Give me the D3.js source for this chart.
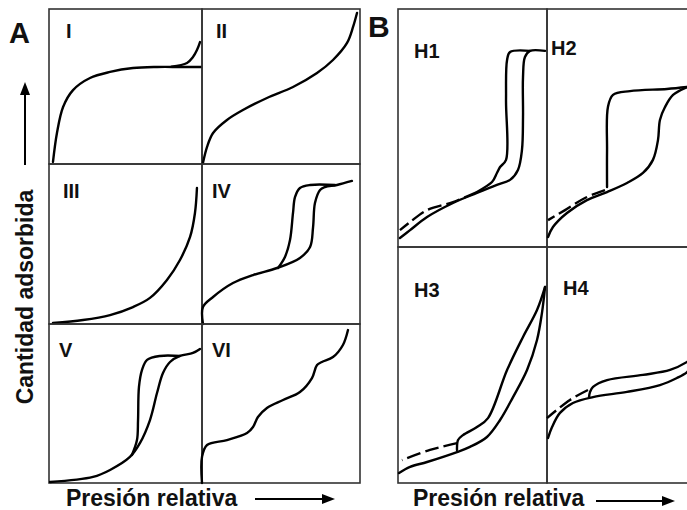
<!DOCTYPE html>
<html>
<head>
<meta charset="utf-8">
<script src="https://cdn.jsdelivr.net/npm/d3@7"></script>
<style>
    body { margin: 0; background: #fff; }
    svg text { font-family: "Liberation Sans", Arial, sans-serif; font-weight: bold; fill: #111; }
</style>
</head>
<body>
<script>
// isotherm shapes, x = relative pressure (0-1), y = amount adsorbed (0-1 within each cell)
const typeI = [[0.026,0.013],[0.052,0.20],[0.092,0.368],[0.157,0.477],[0.268,0.555],[0.399,0.594],[0.549,0.619],[0.706,0.626],[0.856,0.626],[0.993,0.626]];
const typeIUp = [[0.80,0.628],[0.902,0.652],[0.941,0.69],[0.967,0.735],[0.987,0.787]];
const typeII = [[0.006,0.006],[0.032,0.11],[0.07,0.2],[0.158,0.284],[0.259,0.348],[0.411,0.426],[0.576,0.497],[0.728,0.587],[0.829,0.671],[0.918,0.781],[0.956,0.884],[0.981,0.974]];
const typeIII = [[0.026,0.006],[0.222,0.025],[0.399,0.056],[0.549,0.106],[0.66,0.163],[0.771,0.275],[0.856,0.4],[0.922,0.544],[0.954,0.694],[0.967,0.85]];
const typeIVAds = [[0.006,0.0],[0.006,0.106],[0.07,0.169],[0.196,0.256],[0.323,0.306],[0.475,0.35],[0.62,0.413],[0.684,0.481],[0.703,0.606],[0.715,0.756],[0.747,0.838],[0.778,0.856],[0.854,0.869],[0.949,0.894]];
const typeIVDes = [[0.842,0.869],[0.684,0.869],[0.62,0.85],[0.589,0.794],[0.576,0.694],[0.557,0.525],[0.525,0.419],[0.481,0.35]];
const typeVAds = [[0.007,0.006],[0.288,0.038],[0.399,0.082],[0.529,0.164],[0.595,0.252],[0.66,0.396],[0.706,0.566],[0.745,0.692],[0.791,0.761],[0.856,0.799],[0.941,0.818],[0.987,0.843]];
const typeVDes = [[0.856,0.799],[0.725,0.799],[0.641,0.774],[0.608,0.711],[0.588,0.604],[0.582,0.396],[0.575,0.27],[0.542,0.176]];
const typeVI = [[0.0,0.0],[0.0,0.164],[0.032,0.239],[0.158,0.27],[0.285,0.314],[0.323,0.352],[0.354,0.415],[0.411,0.472],[0.513,0.522],[0.62,0.572],[0.696,0.66],[0.728,0.742],[0.759,0.761],[0.829,0.792],[0.892,0.868],[0.924,0.962]];

const h1Ads = [[0.013,0.038],[0.081,0.071],[0.195,0.126],[0.369,0.185],[0.53,0.227],[0.664,0.261],[0.752,0.282],[0.805,0.324],[0.832,0.408],[0.839,0.546],[0.839,0.714],[0.852,0.798],[0.886,0.824],[0.987,0.824]];
const h1Des = [[0.886,0.824],[0.752,0.819],[0.732,0.786],[0.725,0.618],[0.725,0.366],[0.685,0.336],[0.664,0.311],[0.631,0.273],[0.53,0.231]];
const h1Low = [[0.53,0.231],[0.369,0.189],[0.195,0.155],[0.081,0.105],[0.013,0.071]];
const h2Ads = [[0.007,0.042],[0.04,0.084],[0.134,0.143],[0.268,0.197],[0.403,0.231],[0.537,0.269],[0.644,0.311],[0.711,0.366],[0.745,0.45],[0.758,0.534],[0.792,0.588],[0.846,0.639],[0.94,0.672]];
const h2Des = [[0.94,0.672],[0.805,0.664],[0.557,0.655],[0.443,0.639],[0.409,0.588],[0.403,0.408],[0.403,0.252]];
const h2Low = [[0.389,0.239],[0.255,0.206],[0.121,0.155],[0.007,0.113]];
const h3Ads = [[0.007,0.042],[0.081,0.068],[0.195,0.089],[0.396,0.131],[0.483,0.153],[0.597,0.195],[0.685,0.267],[0.772,0.364],[0.866,0.479],[0.933,0.606],[0.966,0.72],[0.987,0.831]];
const h3Des = [[0.987,0.831],[0.933,0.733],[0.839,0.619],[0.732,0.479],[0.604,0.275],[0.53,0.237],[0.436,0.203],[0.403,0.182],[0.396,0.14]];
const h3Low = [[0.396,0.169],[0.215,0.14],[0.027,0.097]];
const h4Ads = [[0.007,0.191],[0.034,0.237],[0.087,0.297],[0.174,0.339],[0.309,0.364],[0.537,0.386],[0.758,0.415],[0.872,0.445],[0.94,0.47],[1.0,0.513]];
const h4Des = [[1.0,0.542],[0.94,0.513],[0.826,0.479],[0.644,0.458],[0.403,0.436],[0.309,0.407],[0.289,0.386],[0.282,0.364]];
const h4Low = [[0.275,0.394],[0.154,0.352],[0.0,0.275]];

const cellLabels = ["I", "II", "III", "IV", "V", "VI", "H1", "H2", "H3", "H4"];
const yTitle = "Cantidad adsorbida";
const xTitle = "Presión relativa";

const width = 687, height = 510;
const svg = d3.select("body").append("svg").attr("width", width).attr("height", height);

// cell boxes
const cells = [
    { x0: 49, x1: 202, y0: 9, y1: 164, lx: 66, ly: 38, lines: [typeI, typeIUp] },
    { x0: 202, x1: 360, y0: 9, y1: 164, lx: 216, ly: 38, lines: [typeII] },
    { x0: 49, x1: 202, y0: 164, y1: 324, lx: 63, ly: 198, lines: [typeIII] },
    { x0: 202, x1: 360, y0: 164, y1: 324, lx: 212, ly: 198, lines: [typeIVAds, typeIVDes] },
    { x0: 49, x1: 202, y0: 324, y1: 483, lx: 59, ly: 357, lines: [typeVAds, typeVDes] },
    { x0: 202, x1: 360, y0: 324, y1: 483, lx: 212, ly: 357, lines: [typeVI] },
    { x0: 398, x1: 547, y0: 9, y1: 247, lx: 414, ly: 58, lines: [h1Ads, h1Des], dashed: h1Low },
    { x0: 547, x1: 696, y0: 9, y1: 247, lx: 551, ly: 55, lines: [h2Ads, h2Des], dashed: h2Low },
    { x0: 398, x1: 547, y0: 247, y1: 483, lx: 414, ly: 297, lines: [h3Ads, h3Des], dashed: h3Low },
    { x0: 547, x1: 696, y0: 247, y1: 483, lx: 563, ly: 295, lines: [h4Ads, h4Des], dashed: h4Low }
];

cells.forEach((c, i) => {
    const x = d3.scaleLinear().domain([0, 1]).range([c.x0, c.x1]);
    const y = d3.scaleLinear().domain([0, 1]).range([c.y1, c.y0]);
    const line = d3.line()
        .x(d => x(d[0]))
        .y(d => y(d[1]))
        .curve(d3.curveCatmullRom.alpha(0.5));

    const g = svg.append("g");
    g.append("rect")
        .attr("x", c.x0).attr("y", c.y0)
        .attr("width", c.x1 - c.x0).attr("height", c.y1 - c.y0)
        .attr("fill", "none").attr("stroke", "#333").attr("stroke-width", 1.6);

    g.selectAll("path.solid")
        .data(c.lines)
        .enter().append("path")
        .attr("class", "solid")
        .attr("d", line)
        .attr("fill", "none").attr("stroke", "#000").attr("stroke-width", 2.4)
        .attr("stroke-linecap", "round");

    if (c.dashed) {
        g.append("path")
            .attr("d", line(c.dashed))
            .attr("fill", "none").attr("stroke", "#000").attr("stroke-width", 2.4)
            .attr("stroke-dasharray", "14,5");
    }

    g.append("text")
        .attr("x", c.lx).attr("y", c.ly)
        .attr("font-size", 20)
        .text(cellLabels[i]);
});

// panel letters
svg.append("text").attr("x", 9).attr("y", 43).attr("font-size", 29).text("A");
svg.append("text").attr("x", 368).attr("y", 37).attr("font-size", 30).text("B");

// axis titles with arrows
svg.append("text")
    .attr("transform", "translate(33,297) rotate(-90)")
    .attr("text-anchor", "middle")
    .attr("font-size", 23)
    .text(yTitle);

function arrow(x1, y1, x2, y2) {
    const ang = Math.atan2(y2 - y1, x2 - x1);
    const len = 13, half = 5;
    const bx = x2 - len * Math.cos(ang), by = y2 - len * Math.sin(ang);
    svg.append("line")
        .attr("x1", x1).attr("y1", y1).attr("x2", bx).attr("y2", by)
        .attr("stroke", "#000").attr("stroke-width", 2);
    svg.append("path")
        .attr("d", d3.line()([
            [x2, y2],
            [bx + half * Math.sin(ang), by - half * Math.cos(ang)],
            [bx - half * Math.sin(ang), by + half * Math.cos(ang)]
        ]) + "Z")
        .attr("fill", "#000");
}
arrow(25, 165, 25, 82);

svg.append("text").attr("x", 66).attr("y", 506).attr("font-size", 23).text(xTitle);
arrow(255, 499, 335, 499);
svg.append("text").attr("x", 413).attr("y", 506).attr("font-size", 23).text(xTitle);
arrow(596, 501, 675, 501);
</script>
</body>
</html>
